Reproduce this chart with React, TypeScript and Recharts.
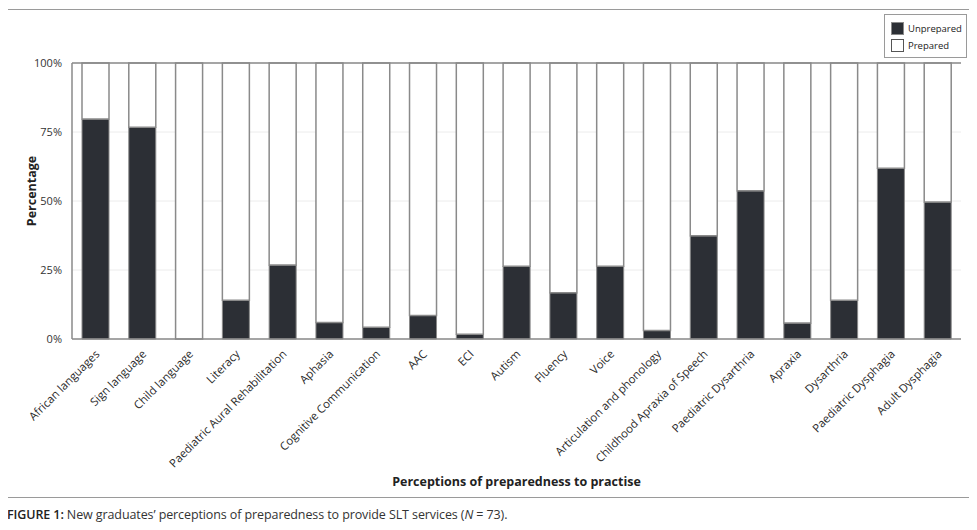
import React from 'react';
import { BarChart, Bar, XAxis, YAxis, CartesianGrid, ReferenceLine } from 'recharts';

const categories = [
  'African languages', 'Sign language', 'Child language', 'Literacy',
  'Paediatric Aural Rehabilitation', 'Aphasia', 'Cognitive Communication', 'AAC',
  'ECI', 'Autism', 'Fluency', 'Voice', 'Articulation and phonology',
  'Childhood Apraxia of Speech', 'Paediatric Dysarthria', 'Apraxia', 'Dysarthria',
  'Paediatric Dysphagia', 'Adult Dysphagia',
];
const unprepared = [79.7, 76.7, 0, 14.0, 26.8, 6.0, 4.3, 8.5, 1.7, 26.4, 16.8, 26.4, 3.1, 37.4, 53.7, 5.8, 14.0, 61.9, 49.6];
const prepared = unprepared.map((u) => 100 - u);
const yTicks = [0, 25, 50, 75, 100];
const seriesNames = ['Unprepared', 'Prepared'];

const data = categories.map((name, i) => ({ name, unprepared: unprepared[i], prepared: prepared[i] }));

const FONT = '"Open Sans", sans-serif';
const DARK = '#2c2f35';
const EDGE = '#8a8a8a';

const XTick = (props: any) => {
  const { x, y, payload } = props;
  return (
    <g transform={`translate(${x + 2},${y + 5})`}>
      <text x={0} y={0} dy={4} textAnchor="end" transform="rotate(-45)" fontSize={11.4} fill="#2a2a2a" fontFamily={FONT}>
        {payload.value}
      </text>
    </g>
  );
};

const LegendBox = () => (
  <div style={{ position: 'absolute', left: 884, top: 14, border: '1px solid #9a9a9a', width: 83, height: 44, boxSizing: 'border-box', background: '#fff', fontFamily: FONT, fontSize: 9.5, color: '#222', padding: '5px 0 0 6px' }}>
    {seriesNames.map((n, i) => (
      <div key={n} style={{ display: 'flex', alignItems: 'center', height: 17 }}>
        <span style={{ display: 'inline-block', width: 11, height: 11, background: i === 0 ? DARK : '#fff', border: `1px solid ${i === 0 ? EDGE : '#555'}`, marginRight: 4 }} />
        {n}
      </div>
    ))}
  </div>
);

const YLabel = (props: any) => {
  const vb = props.viewBox || {};
  const cx = vb.x + 19;
  const cy = vb.y + vb.height / 2 - 10;
  return (
    <text x={cx} y={cy} transform={`rotate(-90, ${cx}, ${cy})`} textAnchor="middle" dominantBaseline="central" fontSize={12.5} fontWeight={700} fill="#222" fontFamily={FONT}>
      Percentage
    </text>
  );
};

export default function App() {
  return (
    <div style={{ position: 'relative', width: 977, height: 530, margin: -8, background: '#fff' }}>
      <div style={{ position: 'absolute', left: 7, top: 9, width: 964, height: 489, border: '1px solid #9a9a9a', boxSizing: 'border-box' }} />
      <div style={{ position: 'absolute', left: 0, top: 0 }}>
        <BarChart width={977} height={500} data={data} margin={{ top: 63, right: 16, left: 12, bottom: 41 }} barSize={27}>
          <CartesianGrid horizontal vertical={false} stroke="#ececec" />
          <XAxis dataKey="name" interval={0} tick={<XTick />} tickLine={false} axisLine={{ stroke: EDGE, strokeWidth: 1.5 }} height={120}
            label={{ value: 'Perceptions of preparedness to practise', position: 'bottom', offset: 18, fontSize: 12.5, fontWeight: 700, fill: '#222', fontFamily: FONT }} />
          <YAxis domain={[0, 100]} ticks={yTicks} tickFormatter={(v: number) => `${v}%`} width={60} tickLine={false}
            axisLine={{ stroke: EDGE, strokeWidth: 1.5 }} tick={{ fontSize: 11, fill: '#333', fontFamily: FONT }} tickMargin={4}
            label={<YLabel />} />
          <YAxis yAxisId="r" orientation="right" domain={[0, 100]} width={0} tick={false} tickLine={false} axisLine={{ stroke: EDGE, strokeWidth: 1.5 }} />
          <ReferenceLine y={100} stroke={EDGE} strokeWidth={1.5} />
          <Bar dataKey="unprepared" name="Unprepared" stackId="a" fill={DARK} stroke={EDGE} strokeWidth={1} isAnimationActive={false} />
          <Bar dataKey="prepared" name="Prepared" stackId="a" fill="#ffffff" stroke={EDGE} strokeWidth={1.5} isAnimationActive={false} />
        </BarChart>
      </div>
      <LegendBox />
      <div style={{ position: 'absolute', left: 7, top: 506, fontFamily: FONT, fontSize: 12.5, color: '#333', whiteSpace: 'nowrap', letterSpacing: -0.1 }}>
        <span style={{ fontWeight: 600, color: '#222' }}>FIGURE 1:</span> New graduates’ perceptions of preparedness to provide SLT services (<i>N</i> = 73).
      </div>
    </div>
  );
}
